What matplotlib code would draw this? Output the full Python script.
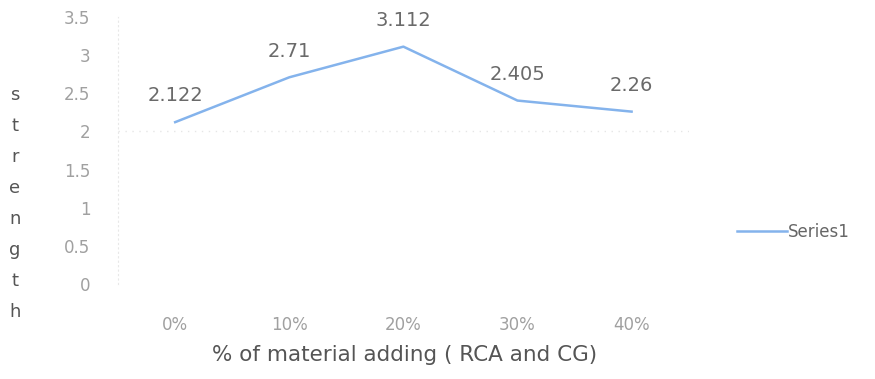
import numpy as np
import matplotlib.pyplot as plt

categories = ['0%', '10%', '20%', '30%', '40%']
strength = [2.122, 2.71, 3.112, 2.405, 2.26]
value_labels = ['2.122', '2.71', '3.112', '2.405', '2.26']
yticks = [0, 0.5, 1, 1.5, 2, 2.5, 3, 3.5]

fig = plt.figure(figsize=(8.75, 3.79), dpi=100)
ax = fig.add_axes([0.135, 0.2507, 0.652, 0.7043])

x = np.arange(len(categories))
line, = ax.plot(x, strength, color='#84b3ec', lw=1.8, label='Series1')

for xi, yi, txt in zip(x, strength, value_labels):
    ax.annotate(txt, (xi, yi), xytext=(0, 12), textcoords='offset points',
                ha='center', va='bottom', fontsize=14, color='#6a6a6a')

ax.set_xlim(-0.5, len(categories) - 0.5)
ax.set_ylim(0, 3.5)
ax.set_yticks(yticks)
ax.set_yticklabels(['0', '0.5', '1', '1.5', '2', '2.5', '3', '3.5'])
ax.set_xticks(x)
ax.set_xticklabels(categories)
ax.tick_params(axis='y', length=0, pad=20, labelsize=12, labelcolor='#a0a0a0')
ax.tick_params(axis='x', length=0, pad=23, labelsize=12, labelcolor='#a0a0a0')

for s in ['top', 'right', 'bottom']:
    ax.spines[s].set_visible(False)
ax.spines['left'].set_color('#e8e8e8')
ax.spines['left'].set_linestyle((0, (1, 3)))
ax.axhline(2, color='#e6e6e6', lw=1, ls=(0, (1, 4)), zorder=0)

# vertical letters of the y label
for i, ch in enumerate('strength'):
    fig.text(15 / 875, 1 - (95 + i * 31) / 379, ch, ha='center', va='center',
             fontsize=13, color='#555555')

fig.text(405 / 875, 1 - 355 / 379, '% of material adding ( RCA and CG)',
         ha='center', va='center', fontsize=15.5, color='#555555')

fig.legend(handles=[line], loc='center left', bbox_to_anchor=(730 / 875, 1 - 232 / 379),
           frameon=False, fontsize=12, labelcolor='#666666', handlelength=3,
           handletextpad=0.1, borderaxespad=0)

fig.savefig('out.png', dpi=100)
